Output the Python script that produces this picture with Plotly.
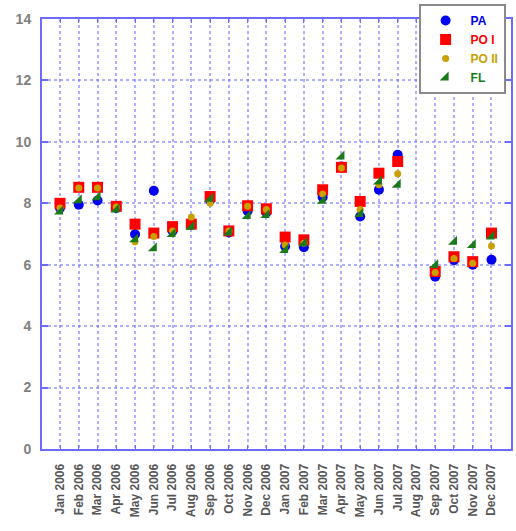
import plotly.graph_objects as go

months = ["Jan 2006", "Feb 2006", "Mar 2006", "Apr 2006", "May 2006", "Jun 2006",
          "Jul 2006", "Aug 2006", "Sep 2006", "Oct 2006", "Nov 2006", "Dec 2006",
          "Jan 2007", "Feb 2007", "Mar 2007", "Apr 2007", "May 2007", "Jun 2007",
          "Jul 2007", "Aug 2007", "Sep 2007", "Oct 2007", "Nov 2007", "Dec 2007"]

pa = [7.85, 7.95, 8.09, 7.85, 6.99, 8.41, 7.10, 7.30, 8.10, 7.05, 7.75, 7.70,
      6.60, 6.57, 8.20, 9.20, 7.57, 8.44, 9.58, None, 5.61, 6.15, 6.00, 6.16]
po1 = [8.00, 8.52, 8.52, 7.90, 7.32, 7.03, 7.24, 7.32, 8.22, 7.10, 7.92, 7.82,
       6.90, 6.81, 8.44, 9.17, 8.06, 8.98, 9.36, None, 5.78, 6.26, 6.10, 7.03]
po2 = [7.85, 8.50, 8.50, 7.88, 6.75, 6.92, 7.10, 7.55, 8.00, 7.10, 7.90, 7.80,
       6.64, 6.70, 8.30, 9.15, 7.80, 8.60, 8.96, None, 5.75, 6.20, 6.05, 6.61]
fl = [7.73, 8.10, 8.20, 7.80, 6.83, 6.54, 7.00, 7.24, 8.15, 7.05, 7.59, 7.62,
      6.48, 6.70, 8.08, 9.52, 7.65, 8.71, 8.60, None, 5.99, 6.75, 6.64, 6.92]

y_ticks = [0, 2, 4, 6, 8, 10, 12, 14]

series = [
    ("PA", pa, "#0000ee", "circle", 10),
    ("PO I", po1, "#ff0000", "square", 11),
    ("PO II", po2, "#c9a000", "circle", 7),
    ("FL", fl, "#1a7a1a", "triangle-se", 10),
]

fig = go.Figure()
for name, vals, color, sym, size in series:
    fig.add_trace(go.Scatter(
        x=list(range(len(months))), y=vals, mode="markers",
        name=f"<span style='color:{color}'><b>{name}</b></span>",
        marker=dict(color=color, symbol=sym, size=size, line=dict(width=0)),
    ))

axis_col = "#6b6bff"
grid_col = "rgba(110,110,255,0.55)"

fig.update_layout(
    width=516, height=531,
    margin=dict(l=42, r=3, t=19, b=82),
    paper_bgcolor="white", plot_bgcolor="white",
    font=dict(family="Liberation Sans, Arial, sans-serif"),
    showlegend=True,
    legend=dict(
        x=0.803, y=1.035, xanchor="left", yanchor="top",
        bgcolor="white", bordercolor="#8a8a8a", borderwidth=2,
        font=dict(size=12), itemwidth=40, tracegroupgap=0,
    ),
    xaxis=dict(
        range=[-0.96, 24.04],
        tickmode="array", tickvals=list(range(len(months))), ticktext=months,
        tickangle=-90, tickfont=dict(size=12, color="#555555", weight="bold"),
        ticks="inside", ticklen=4, tickcolor=axis_col, tickwidth=1,
        showline=True, linecolor=axis_col, linewidth=2, mirror="ticks",
        showgrid=True, gridcolor=grid_col, gridwidth=1.5, griddash="dot",
        zeroline=False, ticklabelstandoff=8,
    ),
    yaxis=dict(
        range=[0, 14], tickvals=y_ticks,
        tickfont=dict(size=14, color="#808080", weight="bold"),
        ticks="inside", ticklen=6, tickcolor=axis_col, tickwidth=2,
        showline=True, linecolor=axis_col, linewidth=2, mirror="ticks",
        showgrid=True, gridcolor=grid_col, gridwidth=1.5, griddash="dot",
        zeroline=False, ticklabelstandoff=6,
    ),
)

fig.write_html(
    "out.html",
    config={"displayModeBar": False},
    post_script="document.body.style.margin='0';document.body.style.overflow='hidden';",
)
